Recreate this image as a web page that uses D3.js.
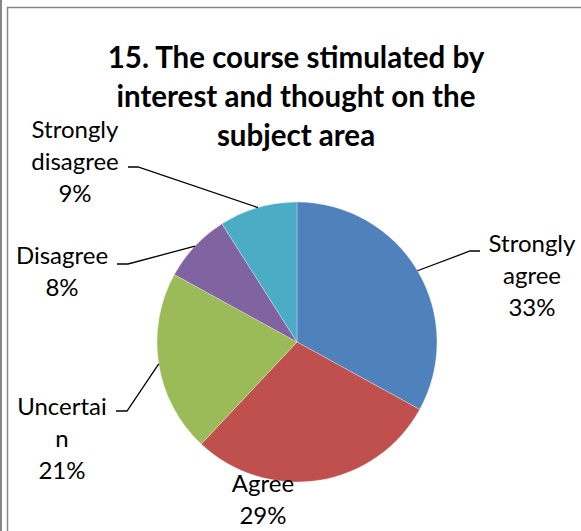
<!DOCTYPE html>
<html>
<head>
<meta charset="utf-8">
<script src="https://cdn.jsdelivr.net/npm/d3@7"></script>
<style>
  body { margin: 0; background: #fff; }
  svg { display: block; }
</style>
</head>
<body>
<div id="chart"></div>
<script>
const categories = ["Strongly agree", "Agree", "Uncertain", "Disagree", "Strongly disagree"];
const percents = [33, 29, 21, 8, 9];
const labelLines = [
  ["Strongly", "agree", "33%"],
  ["Agree", "29%"],
  ["Uncertai", "n", "21%"],
  ["Disagree", "8%"],
  ["Strongly", "disagree", "9%"],
];
const colors = ["#4F81BD", "#C0504D", "#9BBB59", "#8064A2", "#4BACC6"];
const titleLines = ["15. The course stimulated by", "interest and thought on the", "subject area"];

const width = 581;
const height = 531;
const cx = 297;
const cy = 342;
const radius = 140;

// where each label block sits (centre x, first-line y) and where its leader ends
const labelPos = [
  { x: 532, y: 244, anchor: [480, 251], elbow: [470, 251] },
  { x: 263, y: 484, anchor: null },
  { x: 62, y: 407, anchor: [116, 411], elbow: [127, 411] },
  { x: 62, y: 256, anchor: [117, 264], elbow: [128, 264] },
  { x: 75, y: 130, anchor: [128, 167], elbow: [138, 167] },
];

const svg = d3
  .select("#chart")
  .append("svg")
  .attr("width", width)
  .attr("height", height);

// outer frame lines
svg.append("line")
  .attr("x1", 1).attr("x2", 1).attr("y1", 0).attr("y2", height)
  .attr("stroke", "#868686").attr("stroke-width", 2);
svg.append("path")
  .attr("d", `M7.5,${height} V7.5 H${width}`)
  .attr("fill", "none")
  .attr("stroke", "#868686")
  .attr("stroke-width", 1.5);

svg.append("g")
  .selectAll("text")
  .data(titleLines)
  .join("text")
  .attr("x", 296)
  .attr("y", (d, i) => 58 + i * 39)
  .attr("dy", "0.35em")
  .attr("text-anchor", "middle")
  .style("font-family", "Lato, 'Open Sans', sans-serif")
  .style("font-weight", "bold")
  .style("font-size", "29.5px")
  .text((d) => d);

const data = categories.map((c, i) => ({ name: c, value: percents[i], color: colors[i], lines: labelLines[i], pos: labelPos[i] }));

const pie = d3.pie().sort(null).value((d) => d.value);
const arcs = pie(data);
const arc = d3.arc().innerRadius(0).outerRadius(radius);

const pieG = svg.append("g").attr("transform", `translate(${cx},${cy})`);
pieG.selectAll("path")
  .data(arcs)
  .join("path")
  .attr("d", arc)
  .attr("fill", (d) => d.data.color)
  .attr("stroke", "#fff")
  .attr("stroke-width", 0.3);

// leader lines from slice edge midpoint
const leaders = arcs.filter((d) => d.data.pos.anchor);
svg.append("g")
  .selectAll("polyline")
  .data(leaders)
  .join("polyline")
  .attr("points", (d) => {
    const mid = (d.startAngle + d.endAngle) / 2;
    const px = cx + radius * Math.sin(mid);
    const py = cy - radius * Math.cos(mid);
    const p = d.data.pos;
    return [p.anchor, p.elbow, [px, py]].map((q) => q.join(",")).join(" ");
  })
  .attr("fill", "none")
  .attr("stroke", "#000")
  .attr("stroke-width", 1.3);

const labels = svg.append("g")
  .selectAll("g")
  .data(data)
  .join("g");
labels.selectAll("text")
  .data((d) => d.lines.map((t, i) => ({ t, i, p: d.pos })))
  .join("text")
  .attr("x", (d) => d.p.x)
  .attr("y", (d) => d.p.y + d.i * 32)
  .attr("dy", "0.35em")
  .attr("text-anchor", "middle")
  .style("font-family", "Lato, 'Open Sans', sans-serif")
  .style("font-size", "24px")
  .text((d) => d.t);
</script>
</body>
</html>
